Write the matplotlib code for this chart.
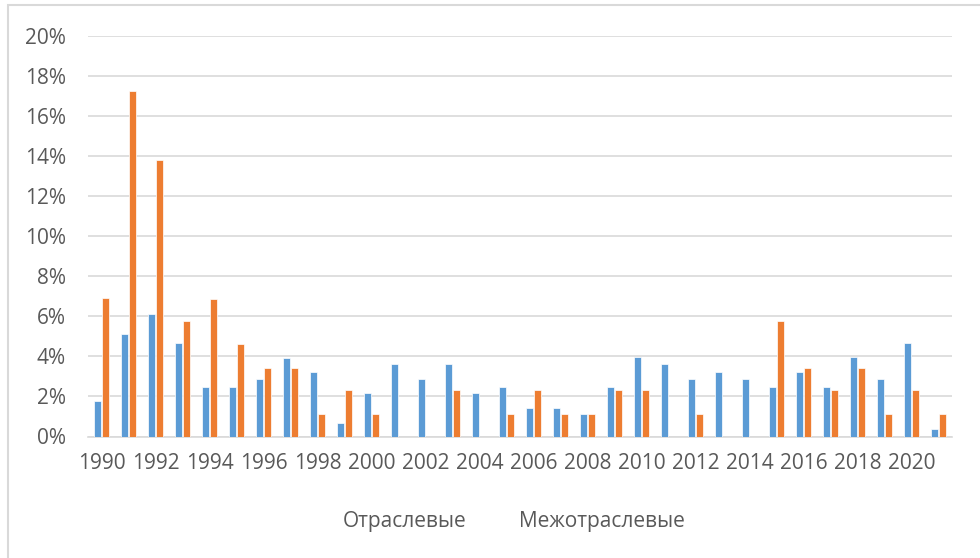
import numpy as np
import matplotlib
matplotlib.use("Agg")
import matplotlib.pyplot as plt
from matplotlib.patches import Rectangle
from matplotlib.ticker import PercentFormatter

# data (percent)
years = list(range(1990, 2022))
otraslevye = [1.76, 5.10, 6.13, 4.67, 2.48, 2.48, 2.87, 3.94, 3.21, 0.68,
              2.15, 3.62, 2.88, 3.62, 2.15, 2.48, 1.42, 1.42, 1.10, 2.48,
              3.95, 3.62, 2.88, 3.22, 2.88, 2.48, 3.22, 2.48, 3.95, 2.88,
              4.68, 0.35]
mezhotraslevye = [6.90, 17.23, 13.77, 5.75, 6.86, 4.60, 3.42, 3.42, 1.10, 2.30,
                  1.10, np.nan, np.nan, 2.30, np.nan, 1.10, 2.30, 1.10, 1.10, 2.30,
                  2.30, np.nan, 1.10, np.nan, np.nan, 5.75, 3.42, 2.30, 3.42, 1.10,
                  2.30, 1.10]
series_names = ["Отраслевые", "Межотраслевые"]
tick_years = years[::2]

plt.rcParams['font.family'] = ['Open Sans', 'DejaVu Sans']
txt = '#595959'
grid = '#d9d9d9'

fig = plt.figure(figsize=(9.8, 5.58), dpi=100)
ax = fig.add_axes([88/980, 121.5/558, 864/980, 401/558])

x = np.arange(len(years))
w = 0.26
off = 0.135
ax.bar(x - off, np.array(otraslevye) / 100, w, color='#5b9bd5',
       edgecolor='white', linewidth=0.5, label=series_names[0], zorder=3)
ax.bar(x + off, np.array(mezhotraslevye) / 100, w, color='#ed7d31',
       edgecolor='white', linewidth=0.5, label=series_names[1], zorder=3)

ax.set_xlim(-0.5, len(years) - 0.5)
ax.set_ylim(0, 0.20)
ax.set_yticks(np.arange(0, 0.201, 0.02))
ax.yaxis.set_major_formatter(PercentFormatter(1.0, decimals=0))
ax.set_xticks([years.index(y) for y in tick_years])
ax.set_xticklabels([str(y) for y in tick_years])

ax.grid(axis='y', color=grid, linewidth=1.2, zorder=0)
for s in ['top', 'right', 'left']:
    ax.spines[s].set_visible(False)
ax.spines['bottom'].set_color(grid)
ax.spines['bottom'].set_linewidth(1.2)
ax.tick_params(axis='both', length=0, labelsize=15, colors=txt)
ax.tick_params(axis='y', pad=16)
ax.tick_params(axis='x', pad=12)

leg = fig.legend(loc='center', bbox_to_anchor=(514/980, 1 - 521/558), ncol=2,
                 frameon=False, fontsize=15, handlelength=0, handletextpad=0,
                 columnspacing=2.5)
for h in leg.legend_handles:
    h.set_visible(False)
for t in leg.get_texts():
    t.set_color(txt)

# outer chart frame (only left and top edges visible)
fig.patches.append(Rectangle((7.5/980, -0.1), 1.2, 1.1 - 5.5/558 + 0.0,
                             transform=fig.transFigure, fill=False,
                             edgecolor=grid, linewidth=1.5, clip_on=False))

fig.savefig('out.png', dpi=100)
